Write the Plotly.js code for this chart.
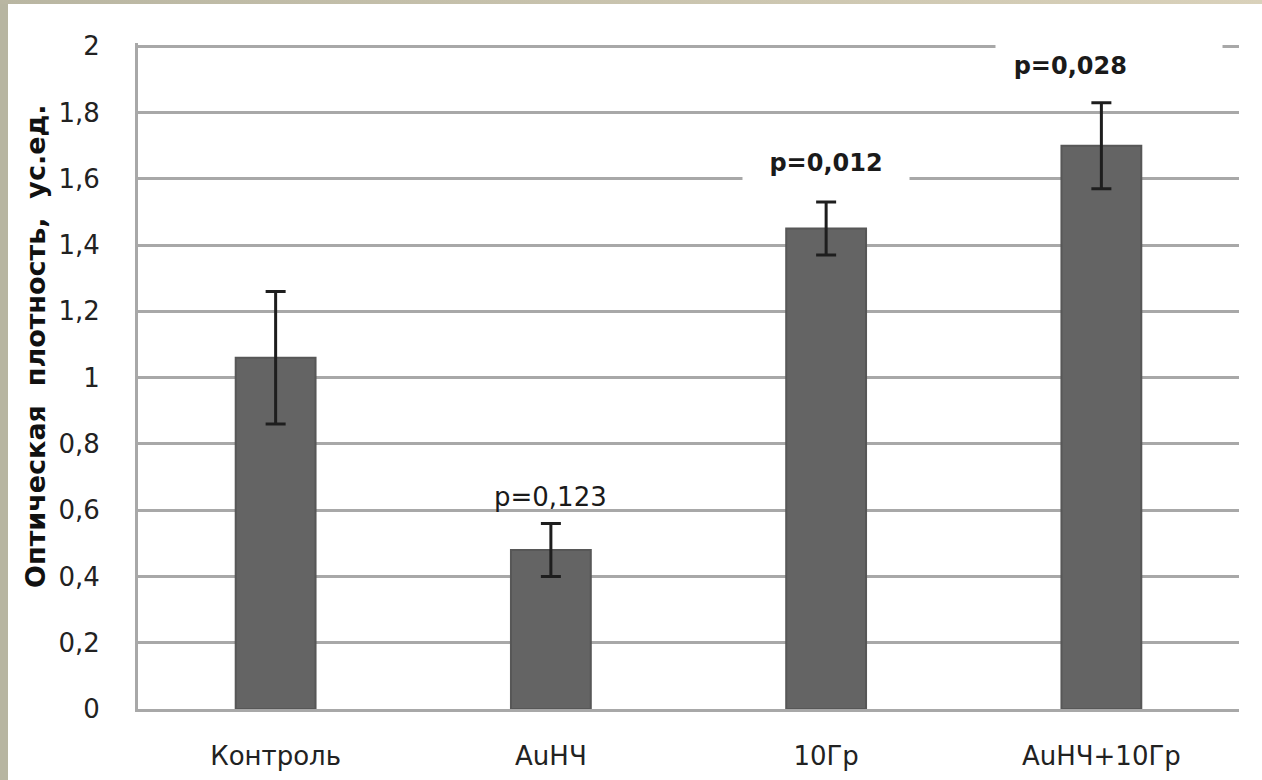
<!DOCTYPE html>
<html>
<head>
<meta charset="utf-8">
<script src="https://cdn.plot.ly/plotly-3.0.1.min.js"></script>
<style>
  html, body { margin: 0; padding: 0; }
  body { width: 1262px; height: 780px; position: relative; overflow: hidden; background: #b7b5a1; }
  #topstrip { position: absolute; left: 0; top: 0; width: 1262px; height: 4px; background: linear-gradient(to right, #b9b6a2, #d9d1ba); }
  #chart { position: absolute; left: 8px; top: 4px; width: 1254px; height: 776px; background: #ffffff; }
</style>
</head>
<body>
<div id="topstrip"></div>
<div id="chart"></div>
<script>
const categories = ["Контроль", "AuНЧ", "10Гр", "AuНЧ+10Гр"];
const values = [1.06, 0.48, 1.45, 1.70];
const errors = [0.20, 0.08, 0.08, 0.13];
const pLabels = ["", "p=0,123", "p=0,012", "p=0,028"];
const pLabelY = [null, 0.64, 1.647, 1.94];
const pBold = [false, false, true, true];
const yTicks = [0, 0.2, 0.4, 0.6, 0.8, 1, 1.2, 1.4, 1.6, 1.8, 2];
const yTitle = "Оптическая  плотность,  ус.ед.";

const FONT = "DejaVu Sans, Verdana, sans-serif";

const trace = {
  type: "bar",
  x: categories,
  y: values,
  marker: { color: "#646464", line: { color: "#575757", width: 2 } },
  error_y: { type: "data", array: errors, visible: true, color: "#1e1e1e", thickness: 3, width: 10 },
  hoverinfo: "x+y"
};

const annBoxes = {
  "p=0,123": { width: null, bg: "rgba(0,0,0,0)", pad: 1, xshift: 0, align: "center", size: 26, lead: "" },
  "p=0,012": { width: 150, bg: "#ffffff", pad: 8, xshift: 0, align: "center", size: 24, lead: "" },
  "p=0,028": { width: 206, bg: "#ffffff", pad: 10, xshift: 8, align: "left", size: 24, lead: "&nbsp;" }
};

const annotations = [];
for (let i = 0; i < categories.length; i++) {
  if (!pLabels[i]) continue;
  const b = annBoxes[pLabels[i]];
  const a = {
    x: categories[i], y: pLabelY[i], xref: "x", yref: "y",
    text: b.lead + (pBold[i] ? "<b>" + pLabels[i] + "</b>" : pLabels[i]),
    showarrow: false,
    font: { family: FONT, size: b.size, color: "#1a1a1a" },
    bgcolor: b.bg, borderpad: b.pad, xshift: b.xshift, align: b.align,
    yanchor: "middle"
  };
  if (b.width) a.width = b.width;
  annotations.push(a);
}

// y axis title placed as rotated annotation (reference title is off-centre)
annotations.push({
  xref: "paper", yref: "paper", x: -0.0936, y: 0.545,
  xanchor: "center", yanchor: "middle",
  text: "<b>" + yTitle + "</b>", textangle: -90, showarrow: false,
  font: { family: FONT, size: 27, color: "#111111" }
});

const layout = {
  width: 1254, height: 776,
  margin: { l: 130, r: 23, t: 39, b: 71 },
  paper_bgcolor: "#ffffff",
  plot_bgcolor: "#ffffff",
  separators: ", ",
  showlegend: false,
  bargap: 0.71,
  font: { family: FONT, size: 26, color: "#222222" },
  xaxis: {
    type: "category",
    showline: true, linecolor: "#a8a8a8", linewidth: 3,
    showgrid: false, ticks: "", ticklabelstandoff: 22,
    tickfont: { family: FONT, size: 26, color: "#222222" }
  },
  yaxis: {
    range: [0, 2.01],
    tickvals: yTicks,
    showline: true, linecolor: "#a8a8a8", linewidth: 3,
    showgrid: true, gridcolor: "#a8a8a8", gridwidth: 3,
    zeroline: false, ticks: "", ticklabelstandoff: 30,
    tickfont: { family: FONT, size: 26, color: "#222222" }
  },
  annotations: annotations
};

Plotly.newPlot("chart", [trace], layout, { displayModeBar: false });
</script>
</body>
</html>
